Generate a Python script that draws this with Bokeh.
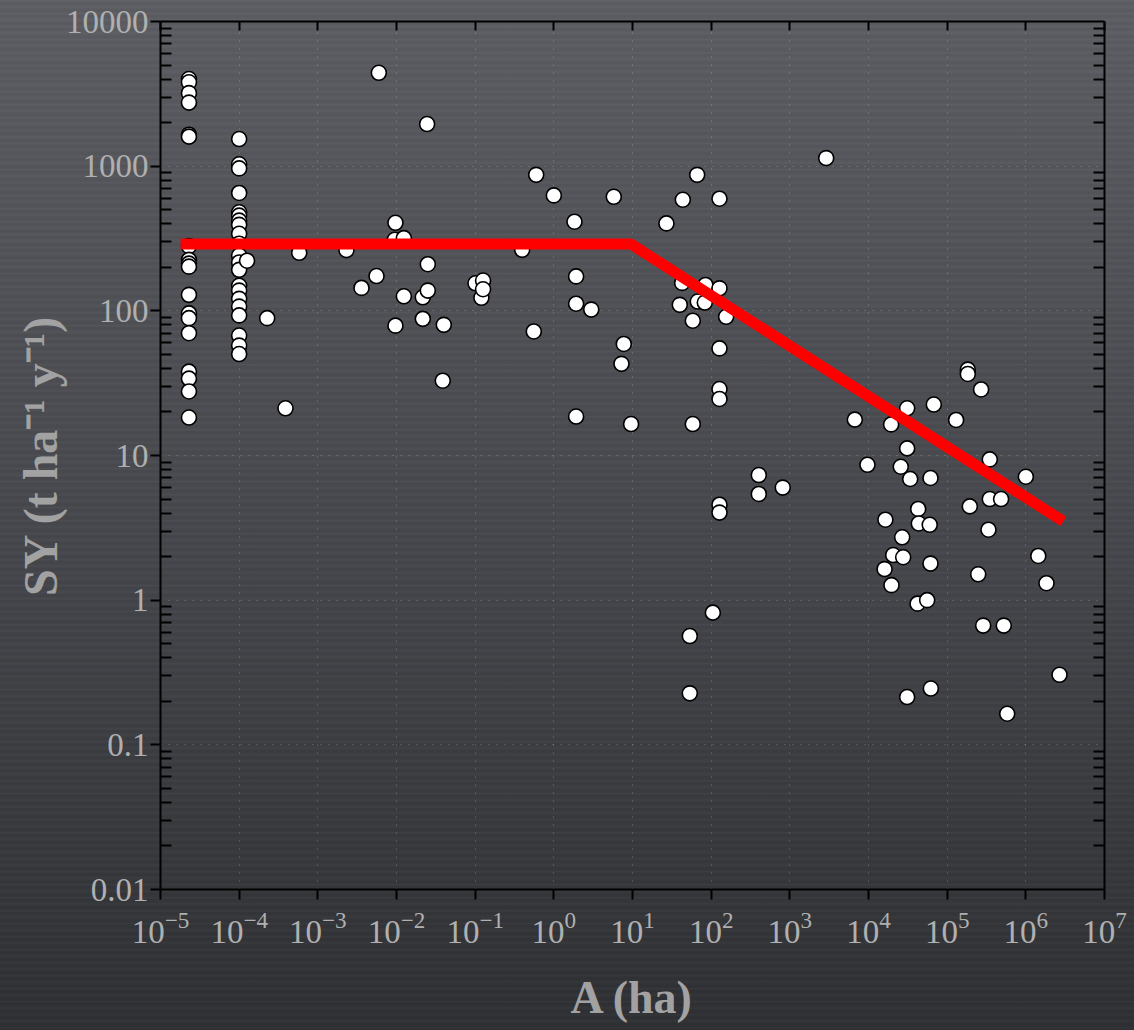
from bokeh.plotting import figure
from bokeh.models import (Range1d, LogAxis, FixedTicker, LogTickFormatter,
                          CustomJSTickFormatter)
from bokeh.embed import file_html
from bokeh.resources import INLINE

# ---- data ----
col1_area = 2.3e-5
col1_sy = [4000, 3800, 3200, 2750, 1650, 1600, 280, 225, 212, 202, 129, 96, 89, 70,
           38, 34, 27.7, 18.3]
col2_area = 1.0e-4
col2_sy = [1540, 1030, 965, 653, 480, 455, 420, 393, 341, 291, 241, 216, 192, 149,
           138, 121, 107, 93, 67.5, 57.5, 50.3]

mid_area = [1.26e-4, 2.27e-4, 3.88e-4, 5.8e-4, 2.31e-3, 3.59e-3, 5.57e-3, 5.96e-3,
            9.5e-3, 9.7e-3, 9.7e-3, 0.0124, 0.0124, 0.0216, 0.0216, 0.0245, 0.025,
            0.025, 0.0387, 0.0399, 0.101, 0.120, 0.126, 0.126, 0.396, 0.556, 0.597,
            1.0, 1.83, 1.92, 1.92, 1.92, 2.99, 5.78, 7.24, 7.75, 9.6]
mid_sy = [222, 89, 21.2, 252, 263, 144, 174, 4420,
          310, 406, 79, 318, 126, 124, 88, 1955, 210,
          138, 32.9, 80, 155, 123, 162, 141, 264, 72, 871,
          628, 413, 173, 112, 18.6, 102, 614, 43, 59, 16.5]

hi_area = [27, 39.9, 42.8, 43.6, 53.5, 53.5, 58.4, 58.4, 66.4, 67.6, 83, 84.7, 105,
           127.6, 127.6, 127.6, 127.6, 127.6, 127.6, 127.6, 155, 403, 403, 813, 2900]
hi_sy = [402, 110, 156, 586, 0.565, 0.227, 85.5, 16.5, 871, 116, 114, 151, 0.82,
         596, 143, 55, 28.8, 24.6, 4.57, 4.03, 91, 7.33, 5.42, 6.0, 1137]

big_area = [6700, 9700, 1.6e4, 1.64e4, 1.94e4, 1.96e4, 2.06e4, 2.57e4, 2.68e4, 2.76e4,
            3.1e4, 3.1e4, 3.1e4, 3.39e4, 4.2e4, 4.28e4, 4.36e4, 5.57e4, 6.0e4, 6.14e4,
            6.14e4, 6.2e4, 6.76e4, 1.3e5, 1.83e5, 1.83e5, 1.94e5, 2.48e5, 2.7e5, 2.87e5,
            3.35e5, 3.48e5, 3.48e5, 4.85e5, 5.24e5, 5.8e5, 1.0e6, 1.44e6, 1.83e6, 2.68e6]
big_sy = [17.7, 8.63, 1.64, 3.6, 16.4, 1.27, 2.05, 8.36, 2.72, 1.98,
          21.2, 11.2, 0.214, 6.88, 0.946, 4.27, 3.39, 1.0, 3.32, 6.99,
          1.79, 0.245, 22.5, 17.6, 39.2, 36.6, 4.45, 1.51, 28.6, 0.667,
          3.07, 9.4, 5.0, 5.0, 0.667, 0.164, 7.13, 2.02, 1.31, 0.305]

fit_area = [1.8e-5, 9.5, 3.0e6]
fit_sy = [290, 290, 3.5]

x_ticks = [1e-5, 1e-4, 1e-3, 1e-2, 1e-1, 1e0, 1e1, 1e2, 1e3, 1e4, 1e5, 1e6, 1e7]
y_ticks = [0.01, 0.1, 1, 10, 100, 1000, 10000]
y_minor = [k * 10.0 ** e for e in range(-2, 4) for k in range(2, 10)]

area = [col1_area] * len(col1_sy) + [col2_area] * len(col2_sy) + mid_area + hi_area + big_area
sy = col1_sy + col2_sy + mid_sy + hi_sy + big_sy

# ---- figure ----
FONT = "Liberation Serif"
LABEL_COLOR = "#b0b0b0"
TITLE_COLOR = "#a2a2a2"

p = figure(width=1134, height=1030, x_axis_type="log", y_axis_type="log",
           x_range=Range1d(1e-5, 1e7), y_range=Range1d(0.01, 1e4),
           output_backend="svg", toolbar_location=None,
           min_border_left=160, min_border_right=30, min_border_top=21,
           min_border_bottom=141)
p.background_fill_color = None
p.border_fill_color = None
p.outline_line_color = None
p.styles = {
    "background-image": (
        "repeating-linear-gradient(180deg, rgba(255,255,255,0.035) 0px, "
        "rgba(255,255,255,0.0) 2px, rgba(0,0,0,0.045) 3px, rgba(0,0,0,0.0) 5px, "
        "rgba(255,255,255,0.025) 7px, rgba(0,0,0,0.04) 10px, rgba(0,0,0,0) 13px), "
        "linear-gradient(180deg, #5c5e63 0%, #505156 30%, #45464b 55%, #3a3b3f 78%, #2f3034 100%)"
    ),
}

xt = FixedTicker(ticks=x_ticks)
yt = FixedTicker(ticks=y_ticks, minor_ticks=y_minor)

xa = p.xaxis[0]
xa.ticker = xt
xa.formatter = LogTickFormatter()
ya = p.yaxis[0]
ya.ticker = yt
ya.formatter = CustomJSTickFormatter(code="return String(Number(tick.toPrecision(6)));")

for ax in (xa, ya):
    ax.axis_line_color = "black"
    ax.axis_line_width = 2
    ax.major_tick_line_color = "black"
    ax.major_tick_line_width = 2
    ax.major_tick_in = 0
    ax.major_tick_out = 10
    ax.major_label_text_font = FONT
    ax.major_label_text_font_size = "33px"
    ax.major_label_text_color = LABEL_COLOR
    ax.axis_label_text_font = FONT
    ax.axis_label_text_font_style = "bold"
    ax.axis_label_text_color = TITLE_COLOR

xa.minor_tick_line_color = None
xa.major_label_standoff = 12
xa.axis_label = "A (ha)"
xa.axis_label_text_font_size = "46px"
xa.axis_label_standoff = 26

ya.minor_tick_line_color = "black"
ya.minor_tick_line_width = 2
ya.minor_tick_in = 11
ya.minor_tick_out = 0
ya.major_label_standoff = 2
ya.axis_label = "SY (t ha⁻¹ y⁻¹)"
ya.axis_label_text_font_size = "48px"
ya.axis_label_standoff = -4

empty = CustomJSTickFormatter(code="return '';")
top = LogAxis(ticker=xt, formatter=empty, axis_line_color="black", axis_line_width=2,
              major_tick_line_color="black", major_tick_line_width=2,
              major_tick_in=9, major_tick_out=0, minor_tick_line_color=None,
              major_label_text_font_size="1px", major_label_standoff=0)
p.add_layout(top, "above")
right = LogAxis(ticker=yt, formatter=empty, axis_line_color="black", axis_line_width=2,
                major_tick_line_color=None, minor_tick_line_color="black",
                minor_tick_line_width=2, minor_tick_in=11, minor_tick_out=0,
                major_label_text_font_size="1px", major_label_standoff=0)
p.add_layout(right, "right")

for g, t in ((p.xgrid, xt), (p.ygrid, yt)):
    g.ticker = t
    g.grid_line_color = "#d0d0d0"
    g.grid_line_alpha = 0.4
    g.grid_line_dash = "1 7"
    g.grid_line_width = 1

p.scatter(area, sy, size=15, fill_color="white", line_color="black", line_width=1.6)
p.line(fit_area, fit_sy, line_color="#ff0000", line_width=11)

open("out.html", "w").write(file_html(p, INLINE))
